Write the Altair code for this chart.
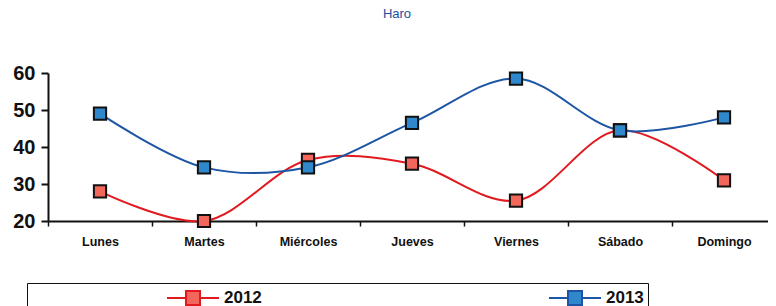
import altair as alt
import pandas as pd

days = ["Lunes", "Martes", "Miércoles", "Jueves", "Viernes", "Sábado", "Domingo"]
series_names = ["2012", "2013"]
values_2012 = [28, 20, 36.5, 35.5, 25.5, 44.5, 31]
values_2013 = [49, 34.5, 34.5, 46.5, 58.5, 44.5, 48]
y_ticks = [20, 30, 40, 50, 60]

rows = []
for d, v in zip(days, values_2012):
    rows.append({"dia": d, "serie": "2012", "valor": v})
for d, v in zip(days, values_2013):
    rows.append({"dia": d, "serie": "2013", "valor": v})
df = pd.DataFrame(rows)

line_colors = ["#e01a1f", "#1d55a5"]
fill_colors = ["#f2665c", "#2f88cc"]

x_enc = alt.X("dia:N", sort=days, title=None,
              scale=alt.Scale(type="band", paddingInner=0, paddingOuter=0, range=[0, 728]),
              axis=alt.Axis(labelAngle=0, tickBand="extent", labelFontSize=12.5,
                            labelFontWeight="bold", labelFont="Liberation Sans",
                            labelColor="#111", labelPadding=9, tickSize=5,
                            tickColor="#111", domainColor="#111", domainWidth=2,
                            tickWidth=1.5))
y_enc = alt.Y("valor:Q", title=None,
              scale=alt.Scale(domain=[20, 60], nice=False, zero=False),
              axis=alt.Axis(values=y_ticks, tickCount=5, grid=False, labelFontSize=20,
                            labelFontWeight="bold", labelOverlap=False,
                            labelFont="Liberation Sans", labelColor="#111",
                            tickSize=7, tickWidth=2, tickColor="#111",
                            domainColor="#111", domainWidth=2, labelPadding=6))

pad = "\u00a0" * 40
legend = alt.Legend(
    title=None, orient="none", legendX=-21, legendY=210,
    direction="horizontal",
    symbolType="M-2.6,0L-0.7,0M0.7,0L2.6,0M-0.7,-0.7L0.7,-0.7L0.7,0.7L-0.7,0.7Z",
    symbolSize=400, symbolStrokeWidth=2,
    labelFontSize=17, labelFont="Liberation Sans",
    labelFontWeight="bold", labelColor="#111", labelOffset=20, labelLimit=600,
    labelExpr="datum.label == '2013' ? datum.label + '" + pad + "' : datum.label",
    symbolOffset=151, columnPadding=151,
    strokeColor="#111", padding=4,
)

base = alt.Chart(df).encode(x=x_enc, y=y_enc)

lines = base.mark_line(interpolate="catmull-rom", strokeWidth=2).encode(
    color=alt.Color("serie:N", scale=alt.Scale(domain=series_names, range=line_colors),
                    legend=legend),
)

points = base.mark_point(shape="square", filled=True, size=150,
                         stroke="#111", strokeWidth=2, opacity=1).encode(
    fill=alt.Fill("serie:N", scale=alt.Scale(domain=series_names, range=fill_colors),
                  legend=legend),
)

chart = alt.layer(lines, points).properties(
    width=720, height=148,
    title=alt.TitleParams("Haro", fontSize=13, fontWeight="normal",
                          font="Liberation Sans", color="#1a4f9c",
                          anchor="middle", offset=42, dx=-11),
    autosize=alt.AutoSizeParams(type="none"),
    padding={"left": 40, "top": 65, "right": 0, "bottom": 90},
).configure_view(stroke=None)

chart.save("out.html", embed_options={"renderer": "svg", "actions": False})
